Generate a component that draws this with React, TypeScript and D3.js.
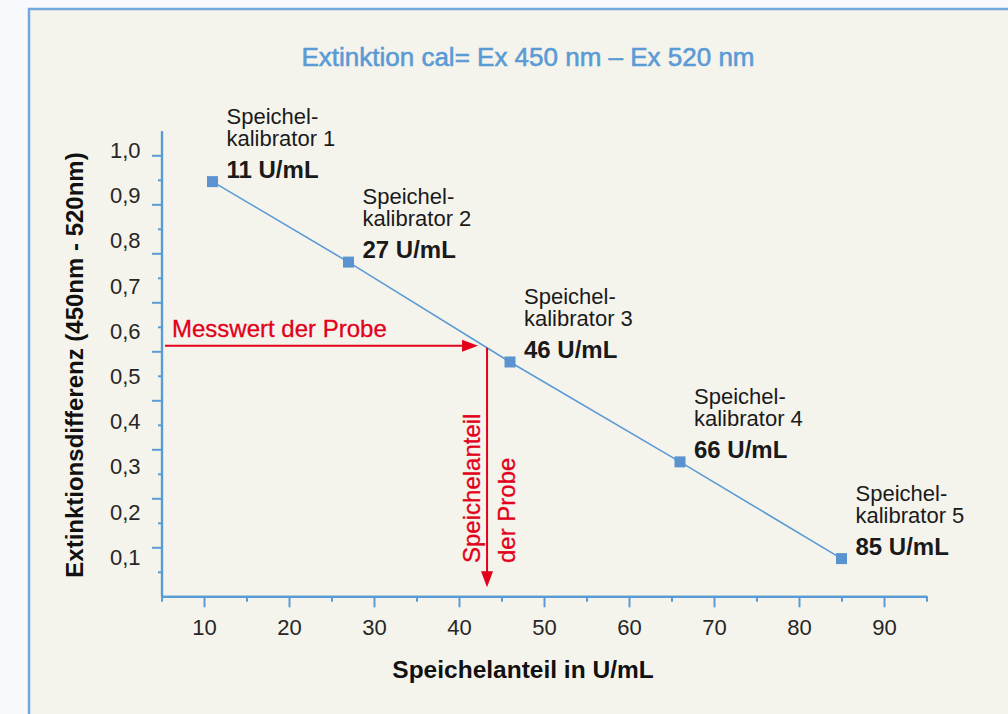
import React, { useEffect, useRef } from 'react';
import * as d3 from 'd3';

// Kalibratoren: Speichelanteil (U/mL) und Extinktionsdifferenz
const calibratorNames = ['kalibrator 1', 'kalibrator 2', 'kalibrator 3', 'kalibrator 4', 'kalibrator 5'];
const calibratorUnits = [11, 27, 46, 66, 85];
const calibratorExtinction = [0.93, 0.752, 0.531, 0.31, 0.096];

// Messwert der Probe
const sampleUnits = 43.3;
const sampleExtinction = 0.567;

// Achsenbeschriftungen
const xTickValues = [10, 20, 30, 40, 50, 60, 70, 80, 90];
const xMinorTicks = [5, 15, 25, 35, 45, 55, 65, 75, 85, 95];
const yTickValues = [1.0, 0.9, 0.8, 0.7, 0.6, 0.5, 0.4, 0.3, 0.2, 0.1];
const yTickLabels = ['1,0', '0,9', '0,8', '0,7', '0,6', '0,5', '0,4', '0,3', '0,2', '0,1'];
// Teilstriche der y-Achse (anderes Raster als die Beschriftung, wie im Original)
const yMarkMajor = [0.1, 0.2, 0.3, 0.4, 0.5, 0.6, 0.7, 0.8, 0.9];
const yMarkMinor = [0.05, 0.15, 0.25, 0.35, 0.45, 0.55, 0.65, 0.75, 0.85];

const FONT = '"Liberation Sans", Arial, Helvetica, sans-serif';
const BLUE = '#5b9bd5';
const RED = '#e2001a';

const App: React.FC = () => {
    const ref = useRef<SVGSVGElement>(null);

    useEffect(() => {
        const width = 1008;
        const height = 714;

        const svg = d3.select(ref.current).attr('width', width).attr('height', height);
        svg.selectAll('*').remove();

        // Hintergrund und Rahmen
        svg.append('rect').attr('width', width).attr('height', height).attr('fill', '#f8f9fc');
        svg.append('rect')
            .attr('x', 29).attr('y', 9)
            .attr('width', width + 20).attr('height', height + 20)
            .attr('fill', '#f5f4ec')
            .attr('stroke', '#74a8dd')
            .attr('stroke-width', 2.5);

        // Skalen
        const xScale = d3.scaleLinear().domain([5, 95]).range([161.5, 926.5]);
        const yScale = d3.scaleLinear().domain([0, 1]).range([602, 150]);
        const yMarkScale = d3.scaleLinear().domain([0, 0.95]).range([596.3, 130.8]);
        const x0 = xScale(5);
        const yBottom = yMarkScale(0);

        // Titel
        svg.append('text')
            .attr('x', 528).attr('y', 66)
            .attr('text-anchor', 'middle')
            .style('font-family', FONT).style('font-size', '26px')
            .attr('fill', BLUE).attr('stroke', BLUE).attr('stroke-width', 0.6)
            .text('Extinktion cal= Ex 450 nm – Ex 520 nm');

        // y-Achse: Teilstriche
        const yAxisG = svg.append('g').attr('transform', `translate(${x0},0)`);
        yAxisG.append('g')
            .call(d3.axisLeft(yMarkScale).tickValues(yMarkMajor).tickSize(9.5).tickSizeOuter(0).tickFormat(() => ''));
        yAxisG.append('g')
            .call(d3.axisLeft(yMarkScale).tickValues(yMarkMinor).tickSize(3.5).tickSizeOuter(0).tickFormat(() => ''));
        yAxisG.selectAll('path.domain').attr('stroke', BLUE).attr('stroke-width', 2.2);
        yAxisG.selectAll('.tick line').attr('stroke', BLUE).attr('stroke-width', 2);

        // y-Achse: Beschriftung
        const yLabelG = svg.append('g').attr('transform', `translate(${x0},0)`)
            .call(d3.axisLeft(yScale).tickValues(yTickValues).tickSize(0).tickPadding(21)
                .tickFormat((_d, i) => yTickLabels[i]));
        yLabelG.select('path.domain').remove();
        yLabelG.selectAll('text')
            .attr('dy', '0.34em')
            .style('font-family', FONT).style('font-size', '22px').attr('fill', '#262626');

        // x-Achse
        const xAxisG = svg.append('g').attr('transform', `translate(0,${yBottom})`);
        xAxisG.append('g')
            .call(d3.axisBottom(xScale).tickValues(xMinorTicks).tickSize(5.5).tickSizeOuter(0).tickFormat(() => ''));
        const xMajor = xAxisG.append('g')
            .call(d3.axisBottom(xScale).tickValues(xTickValues).tickSize(11).tickSizeOuter(0).tickFormat((d) => String(d)));
        xAxisG.selectAll('path.domain').attr('stroke', BLUE).attr('stroke-width', 2.2);
        xAxisG.selectAll('.tick line').attr('stroke', BLUE).attr('stroke-width', 2);
        xMajor.selectAll('text')
            .attr('y', 39).attr('dy', null)
            .style('font-family', FONT).style('font-size', '22px').attr('fill', '#262626');

        // Achsentitel
        svg.append('text')
            .attr('transform', 'translate(83,365) rotate(-90)')
            .attr('text-anchor', 'middle')
            .style('font-family', FONT).style('font-size', '24px').style('font-weight', 'bold')
            .attr('fill', '#111')
            .text('Extinktionsdifferenz (450nm - 520nm)');
        svg.append('text')
            .attr('x', 523).attr('y', 678)
            .attr('text-anchor', 'middle')
            .style('font-family', FONT).style('font-size', '24.5px').style('font-weight', 'bold')
            .attr('fill', '#111')
            .text('Speichelanteil in U/mL');

        // Kalibrierkurve
        const points = calibratorUnits.map((u, i) => [u, calibratorExtinction[i]] as [number, number]);
        const line = d3.line<[number, number]>()
            .x((d) => xScale(d[0]))
            .y((d) => yScale(d[1]));
        svg.append('path')
            .datum(points)
            .attr('d', line)
            .attr('fill', 'none')
            .attr('stroke', BLUE)
            .attr('stroke-width', 1.6);

        const size = 11;
        svg.selectAll('rect.marker')
            .data(points)
            .enter()
            .append('rect')
            .attr('class', 'marker')
            .attr('x', (d) => xScale(d[0]) - size / 2)
            .attr('y', (d) => yScale(d[1]) - size / 2)
            .attr('width', size).attr('height', size)
            .attr('fill', '#5a93cf');

        // Beschriftung der Kalibratoren
        const labels = svg.selectAll('g.label')
            .data(points)
            .enter()
            .append('g')
            .attr('class', 'label')
            .attr('transform', (d) => `translate(${xScale(d[0]) + 14},${yScale(d[1])})`)
            .style('font-family', FONT)
            .attr('fill', '#1a1a1a');
        labels.append('text').attr('y', -58).style('font-size', '22px').text('Speichel-');
        labels.append('text').attr('y', -36).style('font-size', '22px').text((_d, i) => calibratorNames[i]);
        labels.append('text').attr('y', -4).style('font-size', '24px').style('font-weight', 'bold')
            .text((d) => `${d[0]} U/mL`);

        // Messwert der Probe: Pfeile
        const sx = xScale(sampleUnits);
        const sy = yScale(sampleExtinction);
        const arrowLen = 16;
        const arrowHalf = 6;

        svg.append('line')
            .attr('x1', x0 + 3.5).attr('y1', sy)
            .attr('x2', sx - 9 - arrowLen + 2).attr('y2', sy)
            .attr('stroke', RED).attr('stroke-width', 2);
        svg.append('path')
            .attr('d', `M${sx - 9},${sy} L${sx - 9 - arrowLen},${sy - arrowHalf} L${sx - 9 - arrowLen},${sy + arrowHalf} Z`)
            .attr('fill', RED);

        const tipY = yBottom - 9;
        svg.append('line')
            .attr('x1', sx).attr('y1', sy + 2)
            .attr('x2', sx).attr('y2', tipY - arrowLen + 2)
            .attr('stroke', RED).attr('stroke-width', 2);
        svg.append('path')
            .attr('d', `M${sx},${tipY} L${sx - arrowHalf},${tipY - arrowLen} L${sx + arrowHalf},${tipY - arrowLen} Z`)
            .attr('fill', RED);

        svg.append('text')
            .attr('x', x0 + 10.5).attr('y', sy - 8.5)
            .style('font-family', FONT).style('font-size', '24px')
            .attr('fill', RED).attr('stroke', RED).attr('stroke-width', 0.3)
            .text('Messwert der Probe');

        svg.append('text')
            .attr('transform', `translate(${sx - 7},563) rotate(-90)`)
            .style('font-family', FONT).style('font-size', '24px')
            .attr('fill', RED).attr('stroke', RED).attr('stroke-width', 0.3)
            .text('Speichelanteil');
        svg.append('text')
            .attr('transform', `translate(${sx + 28},563) rotate(-90)`)
            .style('font-family', FONT).style('font-size', '24px')
            .attr('fill', RED).attr('stroke', RED).attr('stroke-width', 0.3)
            .text('der Probe');
    }, []);

    return <svg ref={ref} style={{ position: 'absolute', left: 0, top: 0, display: 'block' }}></svg>;
};

export default App;
